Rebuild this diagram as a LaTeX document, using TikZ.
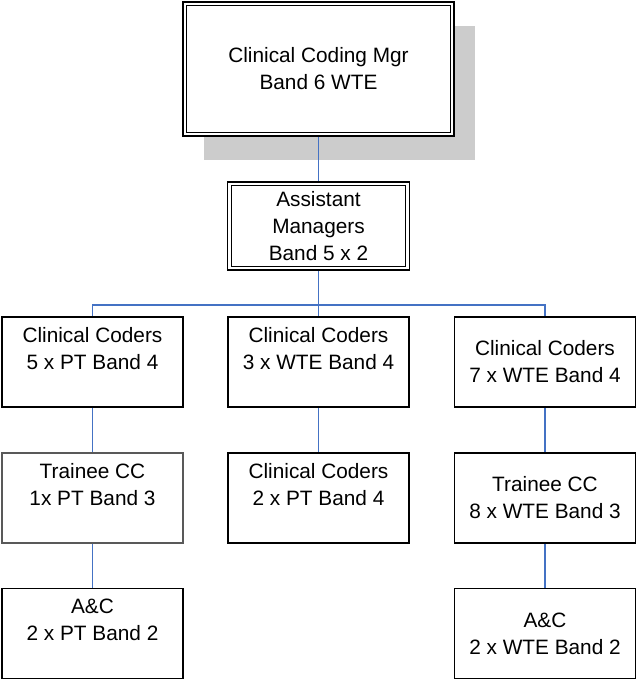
\documentclass[tikz,border=0pt]{standalone}
\usepackage{fontspec}
\setmainfont{Liberation Sans}
\usetikzlibrary{shadows}
\definecolor{linkblue}{RGB}{68,114,196}
\begin{document}
\begin{tikzpicture}[x=1pt,y=-1pt,
	post/.style={draw,fill=white,line width=1.8pt,minimum width=181pt,minimum height=90pt,inner sep=2pt,align=center,font=\fontsize{20.8}{27}\selectfont},
	link/.style={draw=linkblue,line width=1.4pt}]
\useasboundingbox (0,0) rectangle (636,681);
\node[post,minimum width=271pt,minimum height=134pt,
	general shadow={fill=gray!40,shadow xshift=21pt,shadow yshift=-24pt}] (mgr) at (318.5,69) {Clinical Coding Mgr\\Band 6 WTE};
\draw[line width=1.1pt] ([shift={(4.5,4.5)}]mgr.north west) rectangle ([shift={(-4.5,-4.5)}]mgr.south east);
\node[post,minimum width=182pt,minimum height=88pt] (asst) at (318.5,226) {Assistant\\Managers\\Band 5 x 2};
\draw[line width=1.1pt] ([shift={(4.5,4.5)}]asst.north west) rectangle ([shift={(-4.5,-4.5)}]asst.south east);
\node[post] (coders5pt) at (92.5,362) {Clinical Coders\\5 x PT Band 4\\\mbox{}};
\node[post] (coders3wte) at (318.5,362) {Clinical Coders\\3 x WTE Band 4\\\mbox{}};
\node[post] (coders7wte) at (545,362) {Clinical Coders\\7 x WTE Band 4};
\node[post,draw=black!65,line width=1.1pt] (trainee1pt) at (92.5,498) {Trainee CC\\1x PT Band 3\\\mbox{}};
\node[post] (coders2pt) at (318.5,498) {Clinical Coders\\2 x PT Band 4\\\mbox{}};
\node[post] (trainee8wte) at (545,498) {Trainee CC\\8 x WTE Band 3};
\node[post] (ac2pt) at (92.5,633.5) {A\&C\\2 x PT Band 2\\\mbox{}};
\node[post] (ac2wte) at (545,633.5) {A\&C\\2 x WTE Band 2};
\coordinate (split) at (318.5,305);
\draw[link] (mgr) -- (asst);
\draw[link] (asst) -- (split);
\foreach \n in {coders5pt,coders3wte,coders7wte}{
	\draw[link] (split) -| (\n.north);
}
\draw[link] (coders5pt) -- (trainee1pt);
\draw[link] (trainee1pt) -- (ac2pt);
\draw[link] (coders3wte) -- (coders2pt);
\draw[link] (coders7wte) -- (trainee8wte);
\draw[link] (trainee8wte) -- (ac2wte);
\end{tikzpicture}
\end{document}
